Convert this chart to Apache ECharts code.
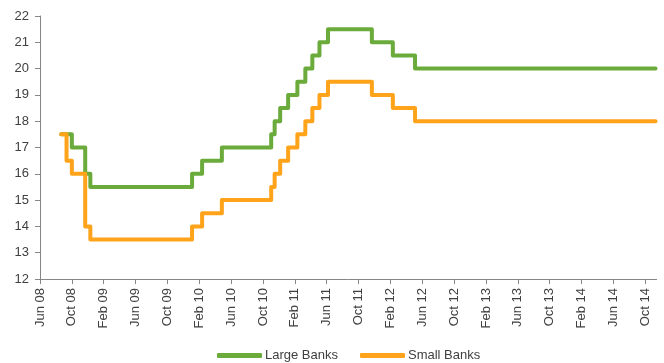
<!DOCTYPE html>
<html>
<head>
<meta charset="utf-8">
<script src="https://cdn.jsdelivr.net/npm/echarts@6/dist/echarts.min.js"></script>
<style>
  html, body { margin: 0; padding: 0; background: #ffffff; }
  #chart { width: 664px; height: 363px; }
</style>
</head>
<body>
<div id="chart"></div>
<script>
// Reserve requirement ratio (%) — dates on which a new ratio took effect
const changeDates = [
  '2008-09-05', '2008-09-25', '2008-10-15', '2008-12-05', '2008-12-25',
  '2010-01-18', '2010-02-25', '2010-05-10', '2010-11-16', '2010-11-29',
  '2010-12-20', '2011-01-20', '2011-02-24', '2011-03-25', '2011-04-21',
  '2011-05-18', '2011-06-20', '2011-12-05', '2012-02-24', '2012-05-18',
  '2014-11-24'
];
const largeBanks = [
  17.5, 17.5, 17.0, 16.0, 15.5,
  16.0, 16.5, 17.0, 17.5, 18.0,
  18.5, 19.0, 19.5, 20.0, 20.5,
  21.0, 21.5, 21.0, 20.5, 20.0,
  20.0
];
const smallBanks = [
  17.5, 16.5, 16.0, 14.0, 13.5,
  14.0, 14.5, 15.0, 15.5, 16.0,
  16.5, 17.0, 17.5, 18.0, 18.5,
  19.0, 19.5, 19.0, 18.5, 18.0,
  18.0
];
// Axis labels, one every four months starting mid-June 2008
const tickLabels = [
  'Jun 08', 'Oct 08', 'Feb 09', 'Jun 09', 'Oct 09', 'Feb 10', 'Jun 10',
  'Oct 10', 'Feb 11', 'Jun 11', 'Oct 11', 'Feb 12', 'Jun 12', 'Oct 12',
  'Feb 13', 'Jun 13', 'Oct 13', 'Feb 14', 'Jun 14', 'Oct 14'
];
const axisEndDate = '2014-11-28';

// Months elapsed since 15 June 2008 (fractional)
function monthIndex(s) {
  const [y, m, d] = s.split('-').map(Number);
  const dim = new Date(y, m, 0).getDate();
  return (y - 2008) * 12 + (m - 6) + (d - 15) / dim;
}

const xs = changeDates.map(monthIndex);
const tickValues = tickLabels.map((_, i) => i * 4);
const labelFor = {};
tickValues.forEach((v, i) => { labelFor[v] = tickLabels[i]; });

const axisGray = '#868686';
const textGray = '#404040';

const chart = echarts.init(document.getElementById('chart'), null, { renderer: 'canvas' });
chart.setOption({
  animation: false,
  backgroundColor: '#ffffff',
  textStyle: { fontFamily: 'Liberation Sans, Arial, sans-serif' },
  grid: { left: 40, right: 7.4, top: 16, bottom: 84, containLabel: false },
  xAxis: {
    type: 'value',
    min: 0,
    max: monthIndex(axisEndDate),
    splitLine: { show: false },
    axisLine: { lineStyle: { color: axisGray, width: 1 } },
    axisTick: { show: true, length: 5, lineStyle: { color: axisGray }, customValues: tickValues },
    axisLabel: {
      customValues: tickValues,
      rotate: 90,
      margin: 9,
      color: textGray,
      fontSize: 13,
      fontFamily: 'Liberation Sans, Arial, sans-serif',
      formatter: v => labelFor[Math.round(v)] || ''
    }
  },
  yAxis: {
    type: 'value',
    min: 12,
    max: 22,
    interval: 1,
    splitLine: { show: false },
    axisLine: { show: true, lineStyle: { color: axisGray, width: 1 } },
    axisTick: { show: true, length: 5, lineStyle: { color: axisGray } },
    axisLabel: {
      margin: 11,
      color: textGray,
      fontSize: 13,
      fontFamily: 'Liberation Sans, Arial, sans-serif'
    }
  },
  legend: {
    left: 212,
    top: 344,
    itemWidth: 45,
    itemHeight: 5,
    itemGap: 22,
    icon: 'roundRect',
    textStyle: { color: textGray, fontSize: 13, fontFamily: 'Liberation Sans, Arial, sans-serif', padding: [0, 0, 0, -2] },
    data: ['Large Banks', 'Small Banks']
  },
  series: [
    {
      name: 'Large Banks',
      type: 'line',
      step: 'end',
      showSymbol: false,
      data: xs.map((x, i) => [x, largeBanks[i]]),
      itemStyle: { color: '#6aab3b' },
      lineStyle: { color: '#6aab3b', width: 4, cap: 'round', join: 'round' }
    },
    {
      name: 'Small Banks',
      type: 'line',
      step: 'end',
      showSymbol: false,
      data: xs.map((x, i) => [x, smallBanks[i]]),
      itemStyle: { color: '#ffa31a' },
      lineStyle: { color: '#ffa31a', width: 4, cap: 'round', join: 'round' }
    }
  ]
});
</script>
</body>
</html>
